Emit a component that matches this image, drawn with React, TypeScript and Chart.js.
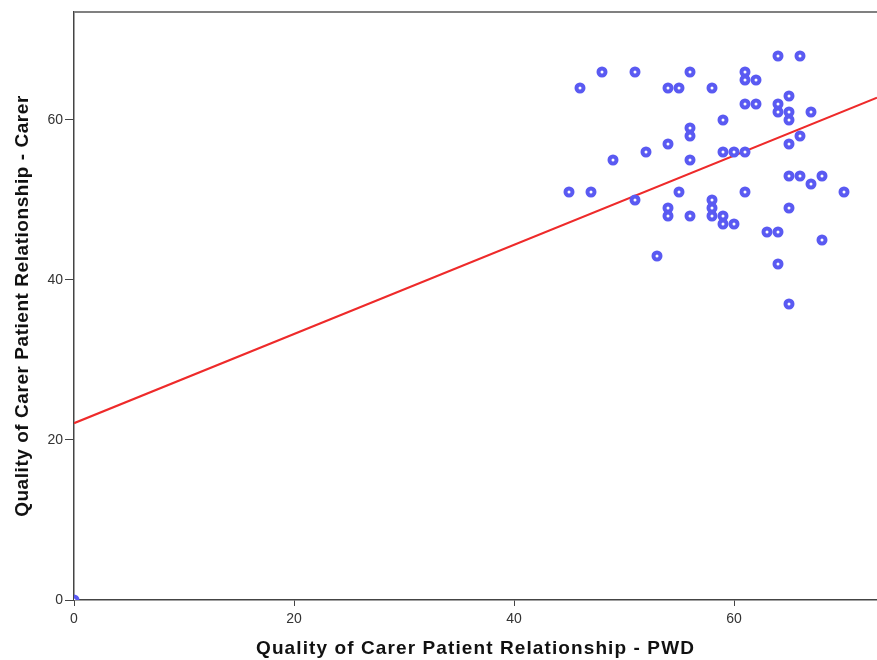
import React, { useEffect, useRef } from "react";
import { Chart, registerables } from "chart.js";

Chart.register(...registerables);

// Quality of Carer Patient Relationship - PWD (x) vs - Carer (y)
const pwdScores = [
  64, 66, 48, 51, 56, 61, 61, 62, 46, 54, 55, 58, 65, 61, 62, 64, 64, 65, 67, 65,
  59, 56, 56, 66, 54, 65, 52, 59, 60, 61, 49, 56, 65, 66, 68, 67, 45, 47, 55, 61,
  70, 51, 58, 54, 58, 65, 54, 56, 58, 59, 59, 60, 63, 64, 68, 53, 64, 65, 0,
];
const carerScores = [
  68, 68, 66, 66, 66, 66, 65, 65, 64, 64, 64, 64, 63, 62, 62, 62, 61, 61, 61, 60,
  60, 59, 58, 58, 57, 57, 56, 56, 56, 56, 55, 55, 53, 53, 53, 52, 51, 51, 51, 51,
  51, 50, 50, 49, 49, 49, 48, 48, 48, 48, 47, 47, 46, 46, 45, 43, 42, 37, 0,
];

// Fit line endpoints
const fitX = [0, 73];
const fitY = [22.1, 62.8];

const xTickValues = [0, 20, 40, 60];
const yTickValues = [0, 20, 40, 60];
const xAxisTitle = "Quality of Carer Patient Relationship - PWD";
const yAxisTitle = "Quality of Carer Patient Relationship - Carer";

const topBorder = {
  id: "topBorder",
  afterDatasetsDraw(chart: any) {
    const { ctx, chartArea } = chart;
    ctx.save();
    ctx.strokeStyle = "#808080";
    ctx.lineWidth = 2;
    ctx.beginPath();
    ctx.moveTo(chartArea.left, chartArea.top);
    ctx.lineTo(chartArea.right, chartArea.top);
    ctx.stroke();
    ctx.restore();
  },
};

function patchTitle(s: any, spacing: string) {
  if (s._titlePatched) return;
  s._titlePatched = true;
  const orig = s.drawTitle;
  s.drawTitle = function (...args: any[]) {
    const ctx = this.ctx;
    const prev = ctx.letterSpacing;
    ctx.letterSpacing = spacing;
    orig.apply(this, args);
    ctx.letterSpacing = prev || "0px";
  };
}

const tickFont = { family: "'Liberation Sans', Arial", size: 14 };
const titleFont = { family: "'Liberation Sans', Arial", size: 19, weight: "bold" as const };

export default function App() {
  const ref = useRef<HTMLCanvasElement | null>(null);
  useEffect(() => {
    document.body.style.margin = "0";
    const ctx = ref.current!;
    const points = pwdScores.map((x, i) => ({ x, y: carerScores[i] }));
    const line = fitX.map((x, i) => ({ x, y: fitY[i] }));
    const chart = new Chart(ctx, {
      type: "scatter",
      data: {
        datasets: [
          {
            type: "line",
            data: line,
            borderColor: "#ee2a2a",
            borderWidth: 2,
            pointRadius: 0,
            fill: false,
            order: 2,
          } as any,
          {
            data: points,
            pointRadius: 3.5,
            pointHoverRadius: 3.5,
            pointBorderWidth: 4,
            pointBackgroundColor: "#ffffff",
            pointBorderColor: "#5a5af2",
            order: 1,
          },
        ],
      },
      options: {
        animation: false,
        responsive: false,
        maintainAspectRatio: false,
        layout: { autoPadding: false, padding: { top: 12, right: 0, left: 0, bottom: 0 } },
        plugins: { legend: { display: false }, tooltip: { enabled: false } },
        scales: {
          x: {
            type: "linear",
            min: 0,
            max: 73,
            afterBuildTicks: (s: any) => {
              s.ticks = xTickValues.map((v) => ({ value: v }));
            },
            afterFit: (s: any) => {
              s.height = 60;
              s.paddingRight = 0;
              s.paddingLeft = 0;
              patchTitle(s, "1.1px");
            },
            grid: {
              drawOnChartArea: false,
              drawTicks: true,
              tickLength: 6,
              color: "#444444",
            },
            border: { display: true, color: "#444444", width: 1.5 },
            ticks: {
              color: "#333333",
              padding: 5,
              font: tickFont,
            },
            title: {
              display: true,
              text: xAxisTitle,
              color: "#111111",
              padding: { top: 0, bottom: 0 },
              font: titleFont,
            },
          },
          y: {
            type: "linear",
            min: 0,
            max: 73.5,
            afterBuildTicks: (s: any) => {
              s.ticks = yTickValues.map((v) => ({ value: v }));
            },
            afterFit: (s: any) => {
              s.width = 74;
              s.paddingTop = 0;
              s.paddingBottom = 0;
              patchTitle(s, "0.55px");
            },
            grid: {
              drawOnChartArea: false,
              drawTicks: true,
              tickLength: 9,
              color: "#444444",
            },
            border: { display: true, color: "#444444", width: 1.5 },
            ticks: {
              color: "#333333",
              padding: 2,
              font: tickFont,
            },
            title: {
              display: true,
              text: yAxisTitle,
              color: "#111111",
              padding: { top: 11, bottom: 0 },
              font: titleFont,
            },
          },
        },
      },
      plugins: [topBorder],
    });
    return () => chart.destroy();
  }, []);
  return (
    <div style={{ position: "absolute", left: 0, top: 0, width: 877, height: 660 }}>
      <canvas ref={ref} width={877} height={660} style={{ width: 877, height: 660 }} />
    </div>
  );
}
